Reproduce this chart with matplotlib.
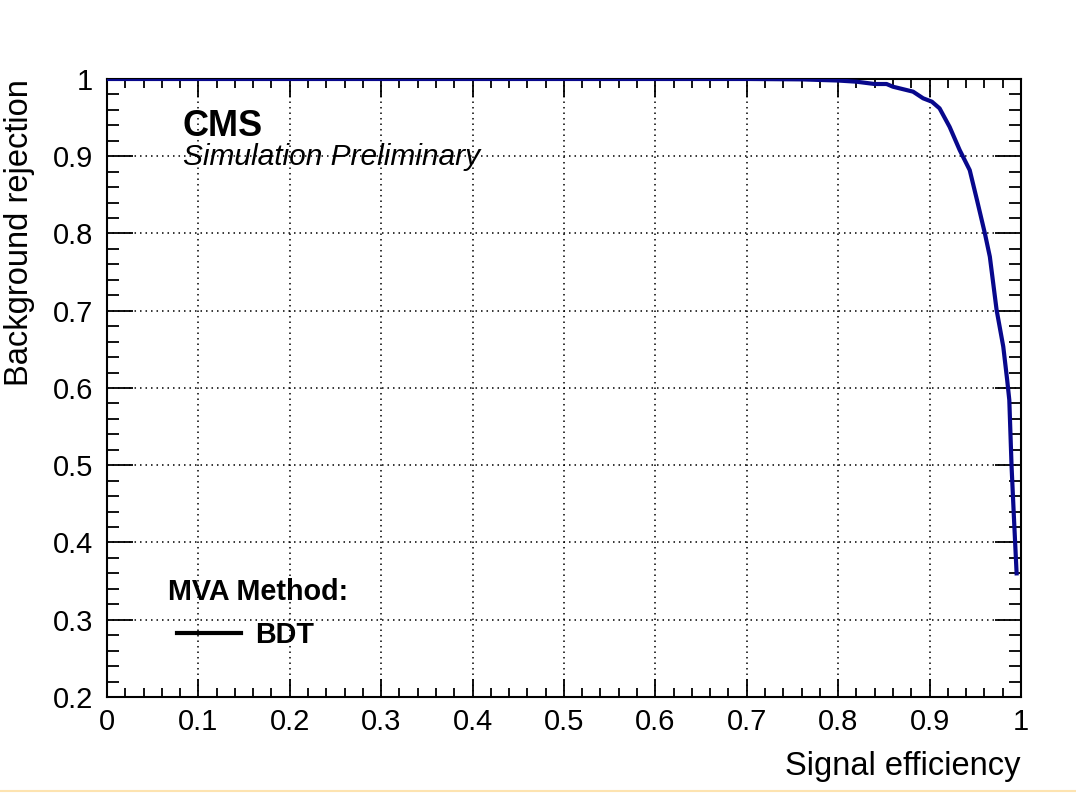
import matplotlib
matplotlib.use('Agg')
import matplotlib.pyplot as plt
from matplotlib.lines import Line2D
from matplotlib.ticker import MultipleLocator, FuncFormatter

plt.rcParams['font.family'] = ['Liberation Sans', 'DejaVu Sans']

# ROC curve
sig_eff = [0.0, 0.70, 0.76, 0.80, 0.82, 0.84, 0.853, 0.86, 0.882, 0.893, 0.9026,
           0.911, 0.922, 0.933, 0.944, 0.952, 0.9606, 0.966, 0.9734, 0.9807,
           0.985, 0.9873, 0.9898, 0.9923, 0.9953]
bkg_rej = [1.0, 1.0, 0.9995, 0.998, 0.9965, 0.9935, 0.9935, 0.990, 0.9836, 0.975,
           0.9706, 0.962, 0.938, 0.908, 0.882, 0.843, 0.800, 0.770, 0.701, 0.6535,
           0.610, 0.5845, 0.498, 0.434, 0.360]
method = 'BDT'

fig = plt.figure(figsize=(10.76, 7.93), dpi=100)
ax = fig.add_axes([0.0994, 0.1211, 0.8494, 0.7793])

ax.plot(sig_eff, bkg_rej, color='#08088c', lw=3.0, solid_joinstyle='round', zorder=3)

ax.set_xlim(0, 1)
ax.set_ylim(0.2, 1)
ax.xaxis.set_major_locator(MultipleLocator(0.1))
ax.xaxis.set_minor_locator(MultipleLocator(0.02))
ax.yaxis.set_major_locator(MultipleLocator(0.1))
ax.yaxis.set_minor_locator(MultipleLocator(0.02))
fmt = FuncFormatter(lambda v, p: '%g' % round(v, 2))
ax.xaxis.set_major_formatter(fmt)
ax.yaxis.set_major_formatter(fmt)

ax.tick_params(axis='both', which='both', direction='in', top=True, right=True,
               width=1.3, labelsize=21, colors='black')
ax.tick_params(axis='x', which='major', length=13, pad=8)
ax.tick_params(axis='x', which='minor', length=6.5)
ax.tick_params(axis='y', which='major', length=19, pad=10)
ax.tick_params(axis='y', which='minor', length=8.5)
for s in ax.spines.values():
    s.set_linewidth(1.5)

ax.grid(True, which='major', color='black', lw=1.1, linestyle=(0, (1, 2.6)))
ax.set_axisbelow(True)

ax.set_xlabel('Signal efficiency', fontsize=23.5, loc='right')
ax.set_ylabel('Background rejection', fontsize=23.5, loc='top')
ax.xaxis.set_label_coords(1.0, -0.088)
ax.yaxis.set_label_coords(-0.079, 1.0)

ax.text(0.0832, 0.908, 'CMS', transform=ax.transAxes, fontsize=26,
        fontweight='bold', va='baseline', ha='left')
ax.text(0.0832, 0.861, 'Simulation Preliminary', transform=ax.transAxes,
        fontsize=21.5, style='italic', va='baseline', ha='left')

# legend: title as text, one entry below
ax.text(0.0667, 0.157, 'MVA Method:', transform=ax.transAxes, fontsize=20.7,
        fontweight='bold', va='baseline', ha='left')
handle = Line2D([], [], color='black', lw=3)
leg = ax.legend([handle], [method], loc='lower left',
                bbox_to_anchor=(0.055, 0.045), frameon=False,
                prop={'size': 20.7, 'weight': 'bold'},
                handlelength=2.2, handletextpad=0.5, borderpad=0.2)

fig.add_artist(Line2D([0, 1], [0.002, 0.002], transform=fig.transFigure,
                      color='#fde3b0', lw=1.5))

fig.savefig('out.png', dpi=100)
